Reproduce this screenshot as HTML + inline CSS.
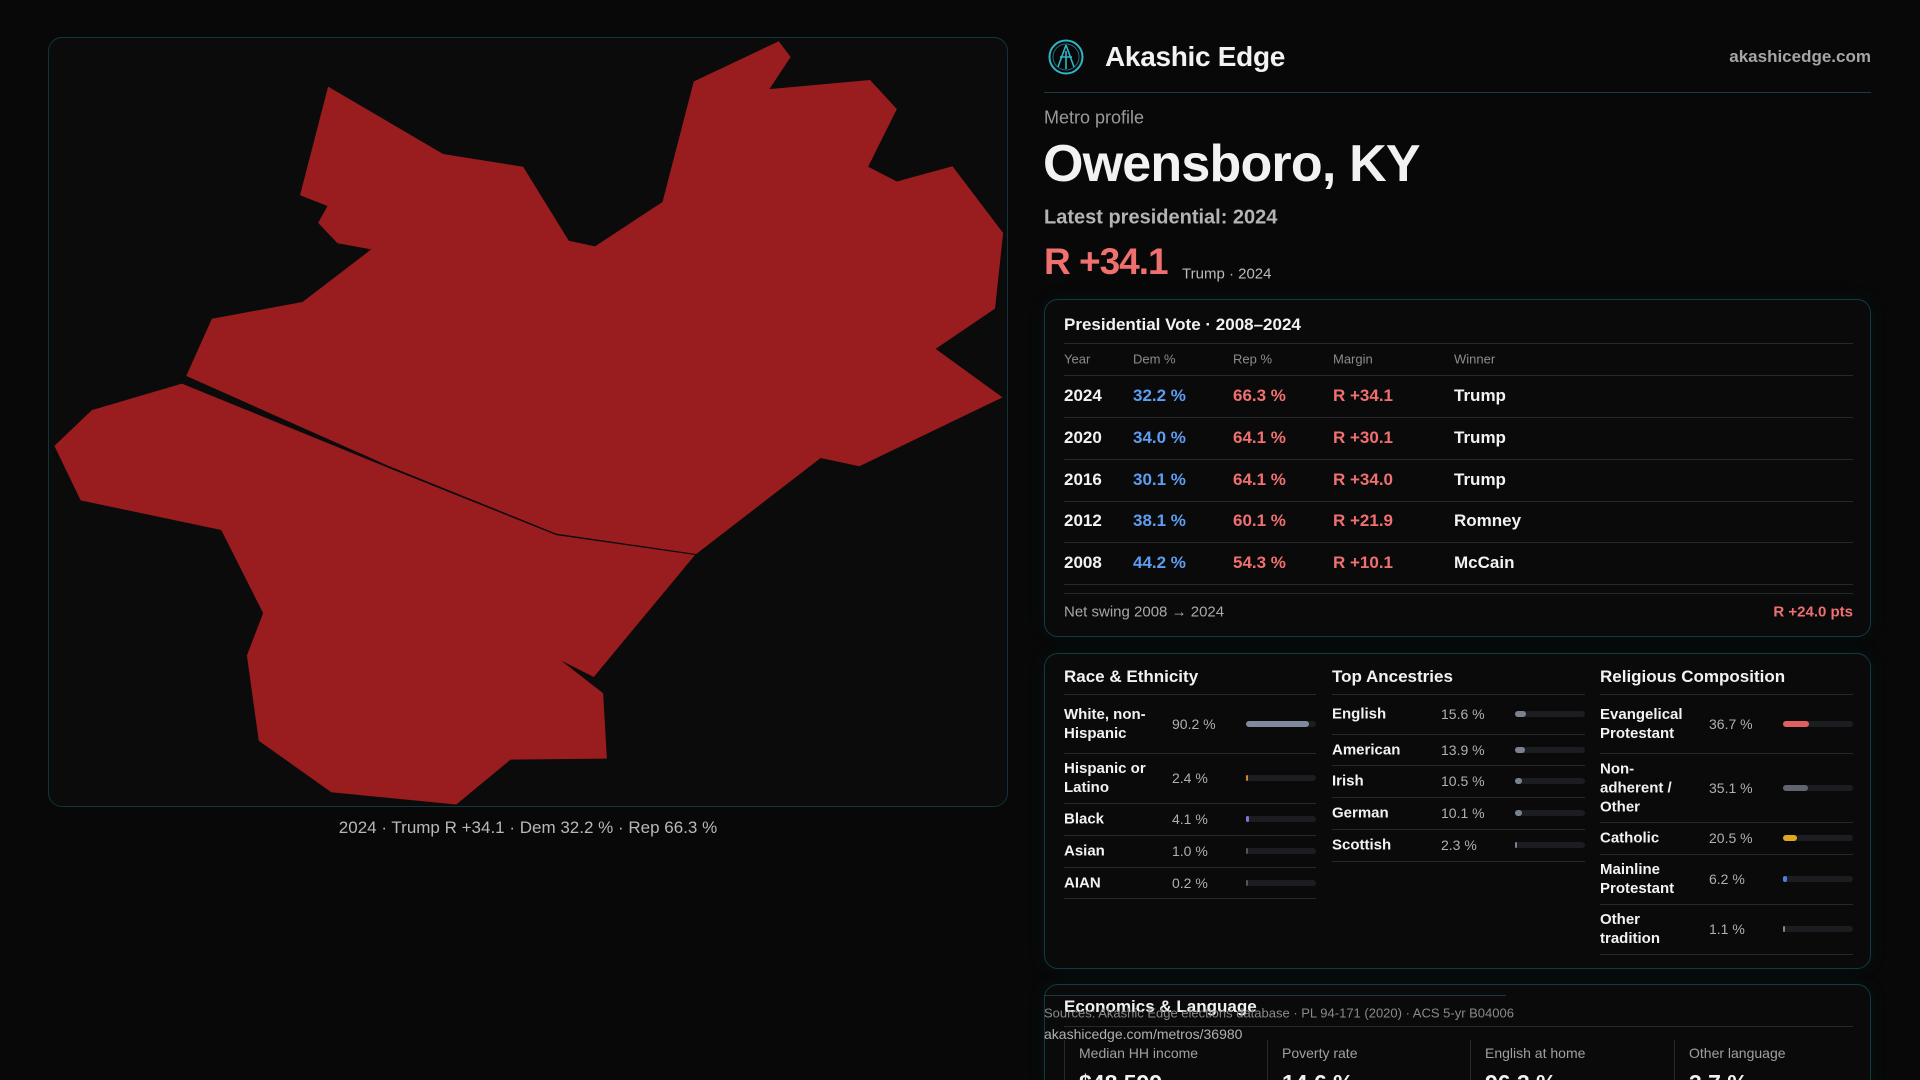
<!DOCTYPE html>
<html><head><meta charset="utf-8">
<style>
*{margin:0;padding:0;box-sizing:border-box}
html,body{width:1920px;height:1080px;overflow:hidden}
body{background:#080808;position:relative;font-family:"Liberation Sans",sans-serif;color:#f2f2f2}
.abs{position:absolute;white-space:nowrap}
.card{position:absolute;left:1044px;width:827px;border:1px solid #123a40;border-radius:14px;background:#0a0a0b;box-shadow:0 0 18px rgba(20,90,100,0.12)}
.hl{position:absolute;height:1px;background:#26282b}
.mid{transform:translateY(-50%)}
</style></head><body>
<div class="abs" style="left:48px;top:37px;width:960px;height:770px;border:1px solid #10363b;border-radius:14px;background:#0b0b0c"></div>
<svg style="position:absolute;left:40px;top:30px" width="980" height="800" viewBox="0 0 1568 1568" preserveAspectRatio="none">
<polygon fill="#991c1f" points="234,678 275,566 420,533 530,430 476,418 445,378 460,345 416,324 461,111 645,243 773,268 846,413 888,424 996,337 1046,101 1182,22 1201,53 1167,116 1328,98 1371,155 1325,268 1371,297 1460,267 1541,398 1528,546 1433,625 1540,720 1311,855 1249,839 1050,1027 826,987 555,853"/>
<polygon fill="#991c1f" points="23,815 83,745 227,693 555,857 826,990 1048,1029 886,1268 834,1236 901,1300 907,1428 753,1430 666,1518 466,1494 350,1393 331,1226 357,1143 290,980 65,922"/>
</svg>
<div class="abs" style="left:528px;top:828px;transform:translate(-50%,-50%);font-size:17px;color:#b8b8b8">2024 · Trump R +34.1 · Dem 32.2 % · Rep 66.3 %</div>

<svg class="abs" style="left:1048px;top:39px" width="36" height="36" viewBox="0 0 36 36"><circle cx="18" cy="18" r="16.5" fill="none" stroke="#2fb6c6" stroke-width="2"/><circle cx="18" cy="18" r="13" fill="none" stroke="#2fb6c6" stroke-width="1" opacity=".6"/><path d="M18 6 L10 28 M18 6 L26 28 M12 18 L24 18 M18 12 L18 30" stroke="#2fb6c6" stroke-width="1.6" fill="none"/></svg>
<div class="abs mid" style="left:1105px;top:57px;font-size:28px;font-weight:bold;letter-spacing:-0.3px">Akashic Edge</div>
<div class="abs mid" style="right:49px;top:57px;font-size:17px;color:#a6a6a6;font-weight:bold">akashicedge.com</div>
<div class="hl" style="left:1044px;top:92px;width:827px;background:#123e44"></div>
<div class="abs mid" style="left:1044px;top:118px;font-size:18px;color:#9a9a9a">Metro profile</div>
<div class="abs mid" style="left:1043px;top:164px;font-size:52px;font-weight:bold;letter-spacing:-0.8px">Owensboro, KY</div>
<div class="abs mid" style="left:1044px;top:218px;font-size:20px;color:#b4b4b4;font-weight:bold">Latest presidential: 2024</div>
<div class="abs mid" style="left:1044px;top:262px;font-size:37px;color:#f07070;font-weight:bold;letter-spacing:-1px">R +34.1</div>
<div class="abs mid" style="left:1182px;top:274px;font-size:15px;color:#bbb">Trump · 2024</div>

<div class="card" style="top:299px;height:338px"></div>
<div class="abs mid" style="left:1064px;top:325px;font-size:17px;font-weight:bold">Presidential Vote · 2008–2024</div>
<div class="hl" style="left:1064px;top:343px;width:789px"></div>
<div id="vtable"></div>
<div class="hl" style="left:1064px;top:593px;width:789px"></div>
<div class="abs mid" style="left:1064px;top:612px;font-size:15px;color:#a8a8a8">Net swing 2008 → 2024</div>
<div class="abs mid" style="right:67px;top:612px;font-size:15px;color:#f07070;font-weight:bold">R +24.0 pts</div>

<div class="card" style="top:653px;height:316px"></div>
<div id="demo"></div>

<div class="card" style="top:984px;height:110px"></div>
<div class="abs mid" style="left:1064px;top:1007px;font-size:17px;font-weight:bold">Economics &amp; Language</div>
<div class="hl" style="left:1064px;top:1026px;width:789px"></div>
<div id="econ"></div>
<div class="hl" style="left:1044px;top:995px;width:462px;background:#123e44"></div>
<div class="abs mid" style="left:1044px;top:1013px;font-size:13px;color:#8a8a8a">Sources: Akashic Edge elections database · PL 94-171 (2020) · ACS 5-yr B04006</div>
<div class="abs mid" style="left:1044px;top:1034px;font-size:14px;color:#b0b0b0">akashicedge.com/metros/36980</div>

<script>
const years=["2024","2020","2016","2012","2008"];
const demPct=[32.2,34.0,30.1,38.1,44.2];
const repPct=[66.3,64.1,64.1,60.1,54.3];
const margins=[34.1,30.1,34.0,21.9,10.1];
const winners=["Trump","Trump","Trump","Romney","McCain"];
const raceLabels=["White, non-<br>Hispanic","Hispanic or<br>Latino","Black","Asian","AIAN"];
const raceVals=[90.2,2.4,4.1,1.0,0.2];
const ancLabels=["English","American","Irish","German","Scottish"];
const ancVals=[15.6,13.9,10.5,10.1,2.3];
const relLabels=["Evangelical<br>Protestant","Non-<br>adherent /<br>Other","Catholic","Mainline<br>Protestant","Other<br>tradition"];
const relVals=[36.7,35.1,20.5,6.2,1.1];
const econLabels=["Median HH income","Poverty rate","English at home","Other language"];
const econVals=["$48,599","14.6 %","96.3 %","3.7 %"];

function mk(parent,css,html){const d=document.createElement('div');d.className='abs';d.style.cssText=css;if(html!==undefined)d.innerHTML=html;parent.appendChild(d);return d;}
const vt=document.getElementById('vtable');
const cols=[1064,1133,1233,1333,1454];
["Year","Dem %","Rep %","Margin","Winner"].forEach((h,i)=>{
 const e=mk(vt,`left:${cols[i]}px;top:359px;transform:translateY(-50%);font-size:13px;color:#8c8c8c`,h);
 
 
});
let r0=mk(vt,'left:1064px;top:375px;width:789px;height:1px;background:#26282b');


years.forEach((y,i)=>{
 const cy=396+i*41.8;
 const cells=[[y,'#f2f2f2'],[demPct[i].toFixed(1)+' %','#5d9df2'],[repPct[i].toFixed(1)+' %','#f07070'],['R +'+margins[i].toFixed(1),'#f07070'],[winners[i],'#f2f2f2']];
 cells.forEach((c,j)=>{
  const e=mk(vt,`left:${cols[j]}px;top:${cy}px;transform:translateY(-50%);font-size:17px;font-weight:bold;color:${c[1]}`,c[0]);
  
  
 });
 const l=mk(vt,`left:1064px;top:${cy+21}px;width:789px;height:1px;background:#26282b`);
 
 
});

const demo=document.getElementById('demo');
function section(title,x0,labels,vals,heights,colors,vx,bx,bw,key){
 const t=mk(demo,`left:${x0}px;top:677px;transform:translateY(-50%);font-size:17px;font-weight:bold`,title);
 
 
 const w=bx+bw-x0;
 const tl=mk(demo,`left:${x0}px;top:694px;width:${w}px;height:1px;background:#26282b`);
 
 
 let y=694;
 labels.forEach((lab,i)=>{
  const h=heights[i];const cy=y+h/2;
  const a=mk(demo,`left:${x0}px;top:${cy}px;transform:translateY(-50%);font-size:15px;font-weight:bold;line-height:19px;white-space:nowrap`,lab);
  
  
  const v=mk(demo,`left:${vx}px;top:${cy}px;transform:translateY(-50%);font-size:14px;color:#b0b0b0`,vals[i].toFixed(1)+' %');
  
  
  const tr=mk(demo,`left:${bx}px;top:${cy-3}px;width:${bw}px;height:6px;border-radius:3px;background:#1c1d20`);
  
  
  const fw=Math.max(2,bw*vals[i]/100);
  const f=mk(demo,`left:${bx}px;top:${cy-3}px;width:${fw}px;height:6px;border-radius:3px;background:${colors[i]}`);
  
  
  y+=h;
  const rl=mk(demo,`left:${x0}px;top:${y}px;width:${w}px;height:1px;background:#26282b`);
  
  
 });
}
section("Race &amp; Ethnicity",1064,raceLabels,raceVals,[59,50,32,32,31],["#7f8aa0","#d08a20","#8a70d0","#555","#555"],1172,1246,70,'race');
section("Top Ancestries",1332,ancLabels,ancVals,[40,31,32,32,32],["#7a8292","#7a8292","#7a8292","#7a8292","#7a8292"],1441,1515,70,'ancestry');
section("Religious Composition",1600,relLabels,relVals,[59,69,32,50,50],["#e06060","#60646c","#e0a820","#4a7ee0","#888"],1709,1783,70,'religion');

const econ=document.getElementById('econ');
const ex=[1064,1267,1470,1674];
econLabels.forEach((l,i)=>{
 const s=mk(econ,`left:${ex[i]}px;top:1040px;width:1px;height:60px;background:#26282b`);
 
 
 const a=mk(econ,`left:${ex[i]+15}px;top:1053px;transform:translateY(-50%);font-size:14px;color:#a0a0a0`,l);
 
 
 const v=mk(econ,`left:${ex[i]+15}px;top:1070px;font-size:23px;font-weight:bold`,econVals[i]);
 
 
});
</script>
</body></html>
